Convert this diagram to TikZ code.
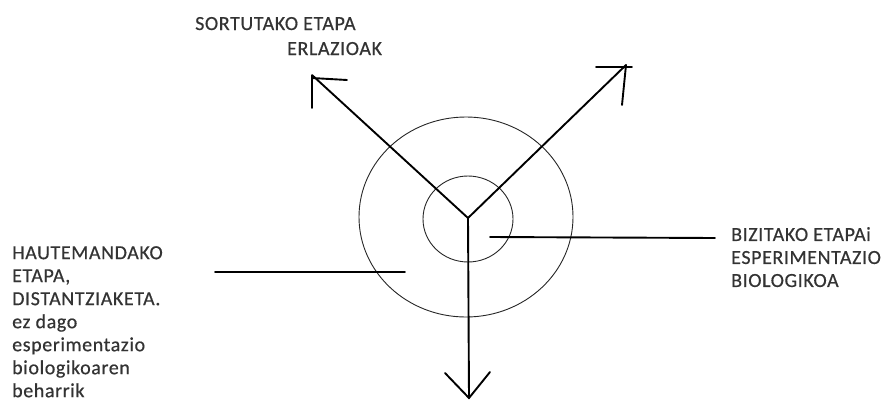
\documentclass[tikz,border=0pt]{standalone}
\usepackage{fontspec}
\setmainfont{Carlito}[LetterSpace=3,FakeBold=0.5]
\begin{document}
\begin{tikzpicture}[x=1pt,y=-1pt,
  arrowline/.style={line width=1.9pt,line cap=round},
  ring/.style={line width=0.9pt,draw=black!85},
  lbl/.style={anchor=base west,inner sep=0pt,align=left,text=black!80,
    font=\fontsize{20}{23}\selectfont}]
\useasboundingbox (0,0) rectangle (883,407);
% rings
\draw[ring] (466,217) ellipse [x radius=107, y radius=100];
\draw[ring] (468,219) ellipse [x radius=45, y radius=43];
% coordinates
\coordinate (c) at (468,218);
\coordinate (tl) at (312,75);
\coordinate (tr) at (626,65);
\coordinate (bt) at (469,398);
% main arrows
\draw[arrowline] (c) -- (tl);
\draw[arrowline] (c) -- (tr);
\draw[arrowline] (c) -- (bt);
% hand drawn heads
\coordinate (tlA) at (312,108);
\coordinate (tlB) at (347,80);
\draw[arrowline] (tlA) -- (tl) -- (312,78) -- (tlB);
\coordinate (trA) at (596,67);
\coordinate (trB) at (622,105);
\draw[arrowline] (trA) -- (632,67);
\draw[arrowline] (tr) -- (trB);
\coordinate (btA) at (445,373);
\coordinate (btB) at (490,372);
\draw[arrowline] (btA) -- (bt) -- (btB);
% pointer lines
\coordinate (rl1) at (490,237);
\coordinate (rl2) at (715,238);
\draw[arrowline] (rl1) -- (rl2);
\coordinate (ll1) at (215,272);
\coordinate (ll2) at (405,272);
\draw[arrowline] (ll1) -- (ll2);
% labels
\node[lbl] (top1) at (195,30) {SORTUTAKO ETAPA};
\node[lbl] (top2) at (287,55) {ERLAZIOAK};
\node[lbl,anchor=north west] (right) at (731,227) {BIZITAKO ETAPAi\\ESPERIMENTAZIO\\BIOLOGIKOA};
\node[lbl,anchor=north west] (left) at (12,246) {HAUTEMANDAKO\\ETAPA,\\DISTANTZIAKETA.\\ez dago\\esperimentazio\\biologikoaren\\beharrik};
\end{tikzpicture}
\end{document}
